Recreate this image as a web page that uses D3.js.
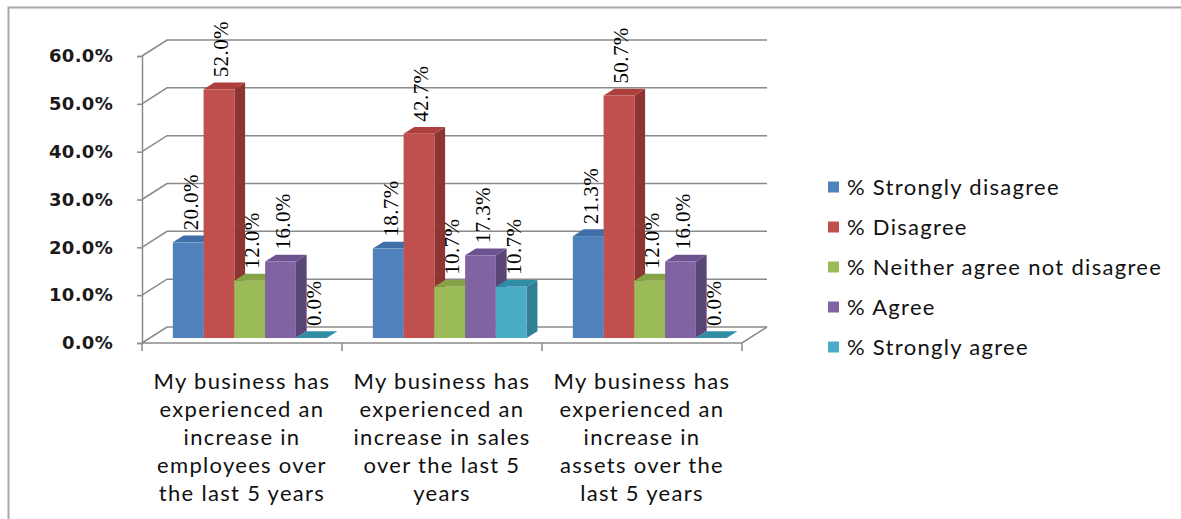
<!DOCTYPE html>
<html>
<head>
<meta charset="utf-8">
<script src="https://cdn.jsdelivr.net/npm/d3@7"></script>
<style>
  html, body { margin: 0; padding: 0; background: #ffffff; }
  svg { display: block; }
</style>
</head>
<body>
<svg id="chart" width="1181" height="519"></svg>
<script>
// ---- data ----
const categories = [
  ["My business has", "experienced an", "increase in", "employees over", "the last 5 years"],
  ["My business has", "experienced an", "increase in sales", "over the last 5", "years"],
  ["My business has", "experienced an", "increase in", "assets over the", "last 5 years"]
];
const seriesNames = [
  "% Strongly disagree",
  "% Disagree",
  "% Neither agree not disagree",
  "% Agree",
  "% Strongly agree"
];
const stronglyDisagree = [20.0, 18.7, 21.3];
const disagree         = [52.0, 42.7, 50.7];
const neither          = [12.0, 10.7, 12.0];
const agree            = [16.0, 17.3, 16.0];
const stronglyAgree    = [0.0, 10.7, 0.0];
const seriesValues = [stronglyDisagree, disagree, neither, agree, stronglyAgree];
const tickValues = [0, 10, 20, 30, 40, 50, 60];

// face colours: front, side, top
const palette = [
  { front: "#4f81bd", side: "#385d8a", top: "#3f6fa9" },
  { front: "#c0504d", side: "#8c3532", top: "#ad3f3c" },
  { front: "#9bbb59", side: "#73893f", top: "#86a348" },
  { front: "#8064a2", side: "#5a4677", top: "#6d5290" },
  { front: "#4bacc6", side: "#317f93", top: "#2f8ea6" }
];

// ---- layout ----
const svg = d3.select("#chart");
const W = 1181, H = 519;
const floorLeft = 142, floorRight = 742;   // front edge of the floor
const depth = { dx: 25, dy: -16 };          // oblique depth of the walls
const barDepth0 = 0.31, barDepth1 = 0.74;   // bars sit inside the wall depth

const y = d3.scaleLinear().domain([0, 60]).range([343, 56]);
const xCat = d3.scaleBand().domain(d3.range(categories.length))
  .range([floorLeft, floorRight]).paddingInner(0).paddingOuter(0);
const xSer = d3.scaleBand().domain(d3.range(seriesNames.length))
  .range([0, xCat.bandwidth()]).paddingInner(0).paddingOuter(0.75);

// frame
svg.append("rect").attr("width", W).attr("height", H).attr("fill", "#fff");
svg.append("path")
  .attr("d", `M8.5,${H} L8.5,7.5 L${W},7.5`)
  .attr("fill", "none").attr("stroke", "#a8a8a8").attr("stroke-width", 2);

const gridColor = "#8a8a8a";

// back wall and side wall gridlines
const grid = svg.append("g").attr("fill", "none").attr("stroke", gridColor).attr("stroke-width", 1.5);
grid.selectAll("path").data(tickValues).join("path")
  .attr("d", t => {
    const yf = y(t);
    return `M${floorLeft},${yf} L${floorLeft + depth.dx},${yf + depth.dy} L${floorRight + depth.dx},${yf + depth.dy}`;
  });

// floor outline (front and right edges)
svg.append("path")
  .attr("d", `M${floorLeft},${y(0)} L${floorRight},${y(0)} L${floorRight + depth.dx},${y(0) + depth.dy}`)
  .attr("fill", "none").attr("stroke", gridColor).attr("stroke-width", 1.5);

// category tick marks on the floor edge
svg.append("g").selectAll("line")
  .data(d3.range(categories.length + 1)).join("line")
  .attr("x1", i => floorLeft + i * xCat.bandwidth())
  .attr("x2", i => floorLeft + i * xCat.bandwidth())
  .attr("y1", y(0)).attr("y2", y(0) + 8)
  .attr("stroke", gridColor).attr("stroke-width", 1.5);

// value axis
const yAxis = d3.axisLeft(y)
  .tickValues(tickValues)
  .tickFormat(d => d.toFixed(1) + "%")
  .tickSize(5)
  .tickPadding(24);
const yAxisG = svg.append("g").attr("transform", `translate(${floorLeft},0)`).call(yAxis);
yAxisG.select(".domain").attr("stroke", gridColor).attr("stroke-width", 1.5);
yAxisG.selectAll(".tick line").attr("stroke", gridColor).attr("stroke-width", 1.5);
yAxisG.selectAll(".tick text")
  .attr("fill", "#1a1a1a")
  .style("font-family", "'DejaVu Sans', sans-serif")
  .style("font-weight", "bold")
  .style("font-size", "18px")
  .style("letter-spacing", "0.3px");

// bars
const barData = [];
categories.forEach((c, ci) => {
  seriesNames.forEach((s, si) => {
    barData.push({ ci, si, v: seriesValues[si][ci] });
  });
});

const ox0 = depth.dx * barDepth0, oy0 = depth.dy * barDepth0;
const ox1 = depth.dx * barDepth1, oy1 = depth.dy * barDepth1;
const unit = y(0) - y(1);

const bars = svg.append("g").selectAll("g").data(barData).join("g");
bars.each(function (d) {
  const g = d3.select(this);
  const xl = xCat(d.ci) + xSer(d.si) + ox0;
  const xr = xl + xSer.bandwidth();
  const yb = y(0) + oy0;
  const yt = yb - d.v * unit;
  const ddx = ox1 - ox0, ddy = oy1 - oy0;
  const col = palette[d.si];
  // right side face
  g.append("path")
    .attr("d", `M${xr},${yb} L${xr + ddx},${yb + ddy} L${xr + ddx},${yt + ddy} L${xr},${yt} Z`)
    .attr("fill", col.side);
  // top face
  g.append("path")
    .attr("d", `M${xl},${yt} L${xr},${yt} L${xr + ddx},${yt + ddy} L${xl + ddx},${yt + ddy} Z`)
    .attr("fill", col.top);
  // front face
  if (d.v > 0) {
    g.append("rect")
      .attr("x", xl).attr("y", yt)
      .attr("width", xSer.bandwidth()).attr("height", yb - yt)
      .attr("fill", col.front);
  }
});

// value labels, rotated
svg.append("g").selectAll("text").data(barData).join("text")
  .attr("transform", d => {
    const cx = xCat(d.ci) + xSer(d.si) + ox0 + xSer.bandwidth() / 2 + 2;
    const yt = y(0) + oy0 - d.v * unit;
    return `translate(${cx},${yt - 12}) rotate(-90)`;
  })
  .attr("dy", "0.35em")
  .attr("text-anchor", "start")
  .style("font-family", "'Liberation Serif', 'Times New Roman', serif")
  .style("font-size", "21px")
  .style("letter-spacing", "0.4px")
  .attr("fill", "#000")
  .text(d => d.v.toFixed(1) + "%");

// category labels
const catG = svg.append("g")
  .style("font-family", "Lato, sans-serif")
  .style("font-size", "22px")
  .style("letter-spacing", "1.3px")
  .attr("fill", "#111");
catG.selectAll("text").data(categories).join("text")
  .attr("x", (c, i) => xCat(i) + xCat.bandwidth() / 2)
  .attr("y", 381)
  .attr("text-anchor", "middle")
  .selectAll("tspan").data(c => c).join("tspan")
  .attr("x", function () { return d3.select(this.parentNode).attr("x"); })
  .attr("dy", (l, i) => i === 0 ? "0.35em" : "28px")
  .text(l => l);

// legend
const legend = svg.append("g").attr("transform", "translate(828,187)");
const items = legend.selectAll("g").data(seriesNames).join("g")
  .attr("transform", (s, i) => `translate(0,${i * 40})`);
items.append("rect")
  .attr("x", 0).attr("y", -5.5).attr("width", 11).attr("height", 11)
  .attr("fill", (s, i) => palette[i].front);
items.append("text")
  .attr("x", 19).attr("dy", "0.35em")
  .style("font-family", "Lato, sans-serif")
  .style("font-size", "22px")
  .style("letter-spacing", "1.3px")
  .attr("fill", "#111")
  .text(s => s);
</script>
</body>
</html>
